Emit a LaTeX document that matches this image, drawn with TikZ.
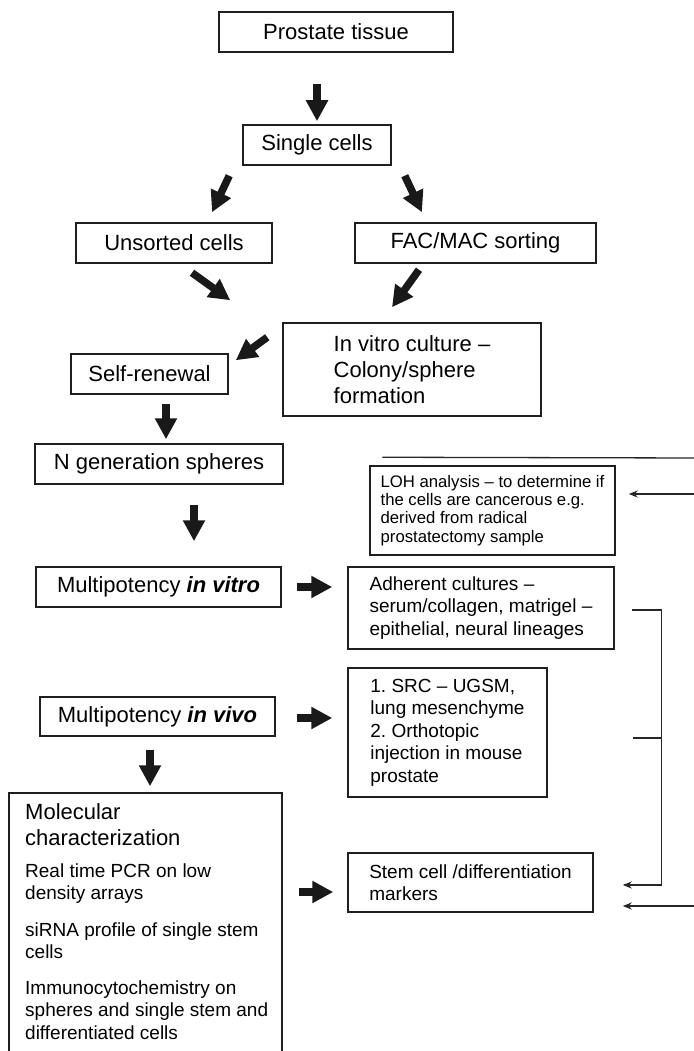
\documentclass[tikz,border=0pt]{standalone}
\usepackage{fontspec}
\setmainfont{Liberation Sans}
\usetikzlibrary{arrows.meta,calc}
\frenchspacing
\begin{document}
\begin{tikzpicture}[x=1pt,y=-1pt,
  box/.style={draw=black!88, line width=1.5pt, inner sep=0pt, align=left},
  bigf/.style={font=\fontsize{22}{26}\selectfont},
  medf/.style={font=\fontsize{19}{22.5}\selectfont},
  smallf/.style={font=\fontsize{16.7}{18.3}\selectfont},
  txt/.style={anchor=base west, inner sep=0pt},
  barrow/.style={draw=black!90, line width=7.5pt, line cap=butt, -{Triangle[width=21pt,length=21pt]}},
  tline/.style={draw=black!85, line width=1.3pt},
  tarrow/.style={tline, -{Stealth[length=9pt,width=7pt]}},
]
\useasboundingbox (0,0) rectangle (693,1051);
\fill[white] (0,0) rectangle (693,1051);

% boxes
\node[box,bigf,minimum width=234pt,minimum height=40pt] (pt) at (336,32) {Prostate tissue};
\node[box,bigf,minimum width=148pt,minimum height=40pt] (sc) at (317,145) {Single cells};
\node[box,bigf,minimum width=196pt,minimum height=40pt] (us) at (174,243) {Unsorted cells};
\node[box,bigf,minimum width=241pt,minimum height=40pt] (fm) at (475.5,243) {FAC/MAC sorting};
\node[box,bigf,minimum width=258pt,minimum height=93pt] (iv) at (412,369.5) {In vitro culture –\\Colony/sphere\\formation};
\node[box,bigf,minimum width=157pt,minimum height=40pt] (sr) at (149.5,374) {Self-renewal};
\node[box,bigf,minimum width=248pt,minimum height=40pt] (ng) at (159,464) {N generation spheres};
\node[box,smallf,minimum width=245pt,minimum height=89pt] (loh) at (492.5,510.5) {LOH analysis – to determine if\\the cells are cancerous e.g.\\derived from radical\\prostatectomy sample};
\node[box,bigf,minimum width=245pt,minimum height=40pt] (mv) at (158.5,587) {Multipotency \textbf{\textit{in vitro}}};
\node[box,medf,minimum width=266pt,minimum height=82pt] (ac) at (481,608) {Adherent cultures –\\serum/collagen, matrigel –\\epithelial, neural lineages};
\node[box,bigf,minimum width=235pt,minimum height=39pt] (mvv) at (157.5,716.5) {Multipotency \textbf{\textit{in vivo}}};
\node[box,medf,minimum width=199pt,minimum height=129pt] (src) at (447.5,732.5) {1. SRC – UGSM,\\lung mesenchyme\\2. Orthotopic\\injection in mouse\\prostate};
\node[box,minimum width=273pt,minimum height=262pt] (mc) at (145.5,924) {};
\node[box,medf,minimum width=245pt,minimum height=59pt] (st) at (470.5,882.5) {Stem cell /differentiation\\markers};

% molecular characterization text
\node[txt,bigf] (m1) at (25,819) {Molecular};
\node[txt,bigf] (m2) at (25,845) {characterization};
\node[txt,medf] (m3) at (25,877) {Real time PCR on low};
\node[txt,medf] (m4) at (25,899.5) {density arrays};
\node[txt,medf] (m5) at (25,936) {siRNA profile of single stem};
\node[txt,medf] (m6) at (25,958.5) {cells};
\node[txt,medf] (m7) at (25,994) {Immunocytochemistry on};
\node[txt,medf] (m8) at (25,1016.5) {spheres and single stem and};
\node[txt,medf] (m9) at (25,1039) {differentiated cells};

% block arrows
\draw[barrow] ($(sc.north |- pt.south)+(0,31)$) -- ($(sc.north)+(0,-3)$);
\draw[barrow] ($(sc.south west)+(-13,10)$) -- ($(us.north)+(38,-10)$);
\draw[barrow] ($(sc.south east)+(13,10)$) -- ($(fm.north)+(-53.5,-10)$);
\draw[barrow] ($(us.south)+(18,9)$) -- ($(iv.north west)+(-52,-22)$);
\draw[barrow] ($(fm.south)+(-56.5,6)$) -- ($(iv.north)+(-20,-15)$);
\draw[barrow] ($(iv.north west)+(-15,15)$) -- ($(sr.north east)+(7,7)$);
\draw[barrow] ($(sr.south)+(16.5,9)$) -- ($(ng.north)+(7,-4)$);
\draw[barrow] ($(ng.south)+(35,20)$) -- ($(mv.north)+(35.5,-25)$);
\draw[barrow] ($(mv.east)+(15,0)$) -- ($(ac.west |- mv.east)+(-15,0)$);
\draw[barrow] ($(mvv.east)+(21,1.5)$) -- ($(src.west |- mvv.east)+(-15,1.5)$);
\draw[barrow] ($(mvv.south)+(-7.5,13)$) -- ($(mc.north)+(4.5,-6)$);
\draw[barrow] ($(mc.east |- st.west)+(16,9.5)$) -- ($(st.west)+(-14,9.5)$);

% thin connectors on the right
\coordinate (re1) at (700,458);
\coordinate (re2) at (700,494);
\coordinate (re3) at (700,906);
\draw[tline] ($(loh.north west)+(13,-8)$) -- (re1);
\draw[tarrow] (re2) -- ($(loh.east)+(13,-16.5)$);
\draw[tarrow] ($(ac.east)+(17,2)$) -- ++(30,0) |- ($(st.east)+(29,2.5)$);
\draw[tline] ($(src.east)+(85,5.5)$) -- ++(29,0);
\draw[tarrow] (re3) -- ($(st.east)+(29,23.5)$);
\end{tikzpicture}
\end{document}
